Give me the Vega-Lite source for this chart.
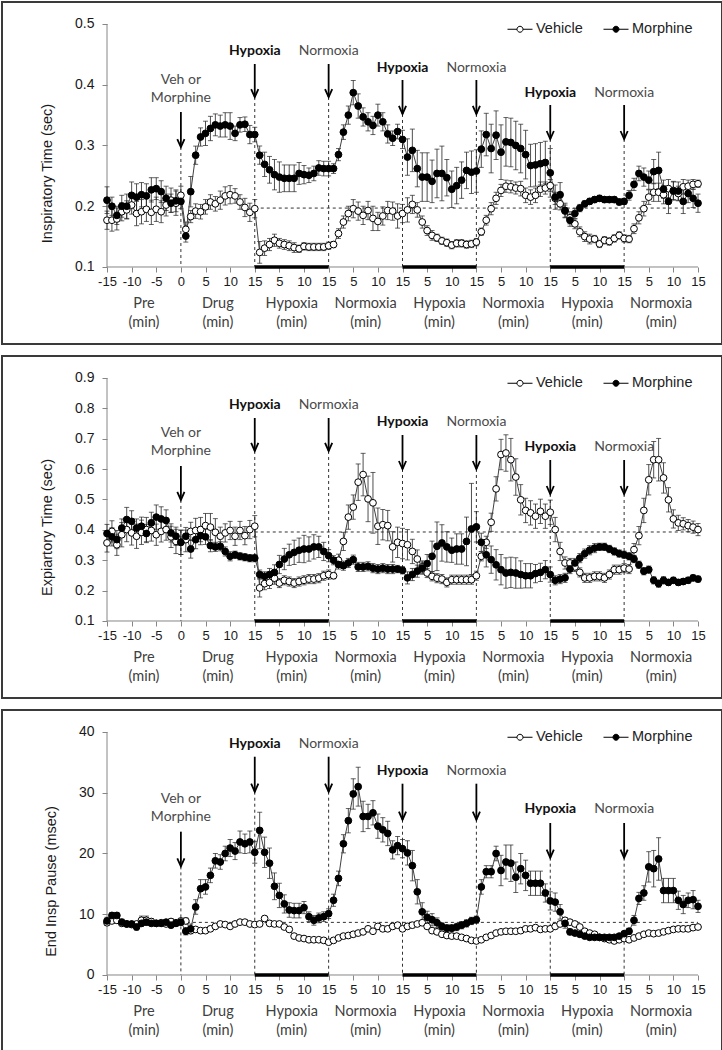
{
"$schema":"https://vega.github.io/schema/vega-lite/v6.json",
"padding":1,
"spacing":10,
"background":"white",
"config":{
"view":{"stroke":"#3a3a3a","strokeWidth":2},
"axis":{"grid":false,"domain":false,"tickColor":"#868686","tickSize":5,"tickWidth":1,"labelFont":"Liberation Sans","labelColor":"#1a1a1a","titleFont":"Liberation Sans","titleFontWeight":"normal","titleColor":"#1a1a1a","titleFontSize":14.5},
"axisX":{"labelFontSize":13,"labelPadding":3,"labelOverlap":false,"labelFlush":false},
"axisY":{"labelFontSize":14,"labelPadding":8,"titlePadding":20}
},
"resolve":{"scale":{"fill":"independent"}},
"datasets":{
"c1":[{"x":-7.5,"y":0.1,"t":"Pre\n(min)"},{"x":7.5,"y":0.1,"t":"Drug\n(min)"},{"x":22.5,"y":0.1,"t":"Hypoxia\n(min)"},{"x":37.5,"y":0.1,"t":"Normoxia\n(min)"},{"x":52.5,"y":0.1,"t":"Hypoxia\n(min)"},{"x":67.5,"y":0.1,"t":"Normoxia\n(min)"},{"x":82.5,"y":0.1,"t":"Hypoxia\n(min)"},{"x":97.5,"y":0.1,"t":"Normoxia\n(min)"}],
"c3":[{"x":-7.5,"y":0,"t":"Pre\n(min)"},{"x":7.5,"y":0,"t":"Drug\n(min)"},{"x":22.5,"y":0,"t":"Hypoxia\n(min)"},{"x":37.5,"y":0,"t":"Normoxia\n(min)"},{"x":52.5,"y":0,"t":"Hypoxia\n(min)"},{"x":67.5,"y":0,"t":"Normoxia\n(min)"},{"x":82.5,"y":0,"t":"Hypoxia\n(min)"},{"x":97.5,"y":0,"t":"Normoxia\n(min)"}],
"h1":[{"x":15,"x2":30,"y":0.1},{"x":45,"x2":60,"y":0.1},{"x":75,"x2":90,"y":0.1}],
"h3":[{"x":15,"x2":30,"y":0},{"x":45,"x2":60,"y":0},{"x":75,"x2":90,"y":0}],
"ax1":[{"x":-15,"x2":105,"y":0.1,"y2":0.1},{"x":-15,"x2":-15,"y":0.1,"y2":0.5}],
"ax2":[{"x":-15,"x2":105,"y":0.1,"y2":0.1},{"x":-15,"x2":-15,"y":0.1,"y2":0.9}],
"ax3":[{"x":-15,"x2":105,"y":0,"y2":0},{"x":-15,"x2":-15,"y":0,"y2":40}],
"b1":[{"x":15,"x2":105,"y":0.197}],
"b2":[{"x":15,"x2":105,"y":0.393}],
"b3":[{"x":0,"x2":105,"y":8.66}],
"a1":[{"x":0,"t":"Veh or\nMorphine","b":0,"ly":0.4078,"ya":0.3551,"yb":0.2975,"y0":0.1},{"x":15,"t":"Hypoxia","b":1,"ly":0.4556,"ya":0.4342,"yb":0.3798,"y0":0.1},{"x":30,"t":"Normoxia","b":0,"ly":0.4556,"ya":0.4342,"yb":0.3798,"y0":0.1},{"x":45,"t":"Hypoxia","b":1,"ly":0.4276,"ya":0.4078,"yb":0.3519,"y0":0.1},{"x":60,"t":"Normoxia","b":0,"ly":0.4276,"ya":0.4078,"yb":0.3519,"y0":0.1},{"x":75,"t":"Hypoxia","b":1,"ly":0.3864,"ya":0.3667,"yb":0.3107,"y0":0.1},{"x":90,"t":"Normoxia","b":0,"ly":0.3864,"ya":0.3667,"yb":0.3107,"y0":0.1}],
"a2":[{"x":0,"t":"Veh or\nMorphine","b":0,"ly":0.7189,"ya":0.6103,"yb":0.4984,"y0":0.1},{"x":15,"t":"Hypoxia","b":1,"ly":0.8121,"ya":0.7683,"yb":0.6597,"y0":0.1},{"x":30,"t":"Normoxia","b":0,"ly":0.8121,"ya":0.7683,"yb":0.6597,"y0":0.1},{"x":45,"t":"Hypoxia","b":1,"ly":0.7551,"ya":0.7124,"yb":0.6004,"y0":0.1},{"x":60,"t":"Normoxia","b":0,"ly":0.7551,"ya":0.7124,"yb":0.6004,"y0":0.1},{"x":75,"t":"Hypoxia","b":1,"ly":0.6728,"ya":0.63,"yb":0.5181,"y0":0.1},{"x":90,"t":"Normoxia","b":0,"ly":0.6728,"ya":0.63,"yb":0.5181,"y0":0.1}],
"a3":[{"x":0,"t":"Veh or\nMorphine","b":0,"ly":29.02,"ya":23.59,"yb":17.88,"y0":0},{"x":15,"t":"Hypoxia","b":1,"ly":38.07,"ya":35.93,"yb":30.17,"y0":0},{"x":30,"t":"Normoxia","b":0,"ly":38.07,"ya":35.93,"yb":30.17,"y0":0},{"x":45,"t":"Hypoxia","b":1,"ly":33.58,"ya":31.49,"yb":25.56,"y0":0},{"x":60,"t":"Normoxia","b":0,"ly":33.58,"ya":31.49,"yb":25.56,"y0":0},{"x":75,"t":"Hypoxia","b":1,"ly":27.37,"ya":25.02,"yb":19.31,"y0":0},{"x":90,"t":"Normoxia","b":0,"ly":27.37,"ya":25.02,"yb":19.31,"y0":0}],
"it":[
{"s":"V","x":-15,"y":0.177,"e":0.015},{"s":"V","x":-14,"y":0.177,"e":0.018},{"s":"V","x":-13,"y":0.179,"e":0.018},{"s":"V","x":-12,"y":0.191,"e":0.015},{"s":"V","x":-11,"y":0.194,"e":0.015},{"s":"V","x":-10,"y":0.202,"e":0.015},{"s":"V","x":-9,"y":0.188,"e":0.02},{"s":"V","x":-8,"y":0.191,"e":0.02},{"s":"V","x":-7,"y":0.195,"e":0.02},{"s":"V","x":-6,"y":0.19,"e":0.02},{"s":"V","x":-5,"y":0.195,"e":0.02},{"s":"V","x":-4,"y":0.191,"e":0.018},{"s":"V","x":-3,"y":0.202,"e":0.018},{"s":"V","x":-2,"y":0.21,"e":0.02},{"s":"V","x":-1,"y":0.205,"e":0.02},{"s":"V","x":0,"y":0.218,"e":0.015},
{"s":"V","x":1,"y":0.162,"e":0.012},{"s":"V","x":2,"y":0.183,"e":0.01},{"s":"V","x":3,"y":0.192,"e":0.012},{"s":"V","x":4,"y":0.191,"e":0.012},{"s":"V","x":5,"y":0.199,"e":0.012},{"s":"V","x":6,"y":0.207,"e":0.012},{"s":"V","x":7,"y":0.204,"e":0.012},{"s":"V","x":8,"y":0.21,"e":0.015},{"s":"V","x":9,"y":0.217,"e":0.015},{"s":"V","x":10,"y":0.219,"e":0.015},{"s":"V","x":11,"y":0.217,"e":0.012},{"s":"V","x":12,"y":0.207,"e":0.012},{"s":"V","x":13,"y":0.198,"e":0.015},{"s":"V","x":14,"y":0.19,"e":0.015},{"s":"V","x":15,"y":0.196,"e":0.015},
{"s":"V","x":16,"y":0.124,"e":0.018},{"s":"V","x":17,"y":0.131,"e":0.012},{"s":"V","x":18,"y":0.137,"e":0.01},{"s":"V","x":19,"y":0.144,"e":0.01},{"s":"V","x":20,"y":0.139,"e":0.008},{"s":"V","x":21,"y":0.137,"e":0.008},{"s":"V","x":22,"y":0.135,"e":0.008},{"s":"V","x":23,"y":0.132,"e":0.008},{"s":"V","x":24,"y":0.13,"e":0.006},{"s":"V","x":25,"y":0.134,"e":0.006},{"s":"V","x":26,"y":0.133,"e":0.006},{"s":"V","x":27,"y":0.133,"e":0.006},{"s":"V","x":28,"y":0.133,"e":0.006},{"s":"V","x":29,"y":0.133,"e":0.006},{"s":"V","x":30,"y":0.135,"e":0.006},
{"s":"V","x":31,"y":0.137,"e":0.005},{"s":"V","x":32,"y":0.155,"e":0.008},{"s":"V","x":33,"y":0.174,"e":0.01},{"s":"V","x":34,"y":0.188,"e":0.012},{"s":"V","x":35,"y":0.196,"e":0.015},{"s":"V","x":36,"y":0.192,"e":0.015},{"s":"V","x":37,"y":0.185,"e":0.015},{"s":"V","x":38,"y":0.193,"e":0.015},{"s":"V","x":39,"y":0.18,"e":0.02},{"s":"V","x":40,"y":0.175,"e":0.015},{"s":"V","x":41,"y":0.184,"e":0.015},{"s":"V","x":42,"y":0.193,"e":0.015},{"s":"V","x":43,"y":0.192,"e":0.015},{"s":"V","x":44,"y":0.184,"e":0.02},{"s":"V","x":45,"y":0.188,"e":0.015},
{"s":"V","x":46,"y":0.194,"e":0.02},{"s":"V","x":47,"y":0.203,"e":0.015},{"s":"V","x":48,"y":0.194,"e":0.012},{"s":"V","x":49,"y":0.174,"e":0.01},{"s":"V","x":50,"y":0.16,"e":0.008},{"s":"V","x":51,"y":0.152,"e":0.008},{"s":"V","x":52,"y":0.148,"e":0.006},{"s":"V","x":53,"y":0.143,"e":0.006},{"s":"V","x":54,"y":0.14,"e":0.006},{"s":"V","x":55,"y":0.136,"e":0.006},{"s":"V","x":56,"y":0.139,"e":0.006},{"s":"V","x":57,"y":0.139,"e":0.006},{"s":"V","x":58,"y":0.137,"e":0.006},{"s":"V","x":59,"y":0.138,"e":0.006},{"s":"V","x":60,"y":0.141,"e":0.006},
{"s":"V","x":61,"y":0.158,"e":0.006},{"s":"V","x":62,"y":0.177,"e":0.008},{"s":"V","x":63,"y":0.196,"e":0.01},{"s":"V","x":64,"y":0.213,"e":0.01},{"s":"V","x":65,"y":0.226,"e":0.01},{"s":"V","x":66,"y":0.233,"e":0.01},{"s":"V","x":67,"y":0.232,"e":0.01},{"s":"V","x":68,"y":0.23,"e":0.01},{"s":"V","x":69,"y":0.229,"e":0.012},{"s":"V","x":70,"y":0.218,"e":0.012},{"s":"V","x":71,"y":0.215,"e":0.012},{"s":"V","x":72,"y":0.218,"e":0.012},{"s":"V","x":73,"y":0.228,"e":0.012},{"s":"V","x":74,"y":0.23,"e":0.01},{"s":"V","x":75,"y":0.234,"e":0.01},
{"s":"V","x":76,"y":0.213,"e":0.01},{"s":"V","x":77,"y":0.204,"e":0.01},{"s":"V","x":78,"y":0.192,"e":0.01},{"s":"V","x":79,"y":0.181,"e":0.01},{"s":"V","x":80,"y":0.171,"e":0.008},{"s":"V","x":81,"y":0.158,"e":0.008},{"s":"V","x":82,"y":0.15,"e":0.008},{"s":"V","x":83,"y":0.146,"e":0.008},{"s":"V","x":84,"y":0.146,"e":0.006},{"s":"V","x":85,"y":0.138,"e":0.006},{"s":"V","x":86,"y":0.144,"e":0.006},{"s":"V","x":87,"y":0.142,"e":0.006},{"s":"V","x":88,"y":0.147,"e":0.006},{"s":"V","x":89,"y":0.152,"e":0.006},{"s":"V","x":90,"y":0.147,"e":0.006},
{"s":"V","x":91,"y":0.146,"e":0.006},{"s":"V","x":92,"y":0.163,"e":0.008},{"s":"V","x":93,"y":0.181,"e":0.01},{"s":"V","x":94,"y":0.196,"e":0.012},{"s":"V","x":95,"y":0.215,"e":0.012},{"s":"V","x":96,"y":0.223,"e":0.015},{"s":"V","x":97,"y":0.223,"e":0.015},{"s":"V","x":98,"y":0.219,"e":0.015},{"s":"V","x":99,"y":0.229,"e":0.015},{"s":"V","x":100,"y":0.226,"e":0.015},{"s":"V","x":101,"y":0.221,"e":0.012},{"s":"V","x":102,"y":0.232,"e":0.012},{"s":"V","x":103,"y":0.233,"e":0.01},{"s":"V","x":104,"y":0.236,"e":0.008},{"s":"V","x":105,"y":0.237,"e":0.006},
{"s":"M","x":-15,"y":0.21,"e":0.022},{"s":"M","x":-14,"y":0.2,"e":0.015},{"s":"M","x":-13,"y":0.185,"e":0.015},{"s":"M","x":-12,"y":0.2,"e":0.018},{"s":"M","x":-11,"y":0.2,"e":0.02},{"s":"M","x":-10,"y":0.218,"e":0.022},{"s":"M","x":-9,"y":0.215,"e":0.022},{"s":"M","x":-8,"y":0.219,"e":0.02},{"s":"M","x":-7,"y":0.217,"e":0.02},{"s":"M","x":-6,"y":0.227,"e":0.02},{"s":"M","x":-5,"y":0.229,"e":0.018},{"s":"M","x":-4,"y":0.224,"e":0.018},{"s":"M","x":-3,"y":0.213,"e":0.02},{"s":"M","x":-2,"y":0.205,"e":0.015},{"s":"M","x":-1,"y":0.209,"e":0.018},{"s":"M","x":0,"y":0.208,"e":0.012},
{"s":"M","x":1,"y":0.151,"e":0.01},{"s":"M","x":2,"y":0.224,"e":0.025},{"s":"M","x":3,"y":0.284,"e":0.015},{"s":"M","x":4,"y":0.314,"e":0.015},{"s":"M","x":5,"y":0.32,"e":0.02},{"s":"M","x":6,"y":0.328,"e":0.02},{"s":"M","x":7,"y":0.334,"e":0.018},{"s":"M","x":8,"y":0.332,"e":0.018},{"s":"M","x":9,"y":0.334,"e":0.02},{"s":"M","x":10,"y":0.332,"e":0.022},{"s":"M","x":11,"y":0.32,"e":0.012},{"s":"M","x":12,"y":0.334,"e":0.012},{"s":"M","x":13,"y":0.335,"e":0.012},{"s":"M","x":14,"y":0.318,"e":0.015},{"s":"M","x":15,"y":0.318,"e":0.012},
{"s":"M","x":16,"y":0.284,"e":0.015},{"s":"M","x":17,"y":0.269,"e":0.02},{"s":"M","x":18,"y":0.26,"e":0.022},{"s":"M","x":19,"y":0.252,"e":0.025},{"s":"M","x":20,"y":0.248,"e":0.025},{"s":"M","x":21,"y":0.246,"e":0.022},{"s":"M","x":22,"y":0.246,"e":0.022},{"s":"M","x":23,"y":0.246,"e":0.022},{"s":"M","x":24,"y":0.254,"e":0.018},{"s":"M","x":25,"y":0.252,"e":0.015},{"s":"M","x":26,"y":0.251,"e":0.012},{"s":"M","x":27,"y":0.254,"e":0.012},{"s":"M","x":28,"y":0.263,"e":0.012},{"s":"M","x":29,"y":0.262,"e":0.012},{"s":"M","x":30,"y":0.262,"e":0.012},
{"s":"M","x":31,"y":0.262,"e":0.008},{"s":"M","x":32,"y":0.285,"e":0.01},{"s":"M","x":33,"y":0.322,"e":0.012},{"s":"M","x":34,"y":0.35,"e":0.015},{"s":"M","x":35,"y":0.387,"e":0.02},{"s":"M","x":36,"y":0.365,"e":0.02},{"s":"M","x":37,"y":0.347,"e":0.015},{"s":"M","x":38,"y":0.339,"e":0.015},{"s":"M","x":39,"y":0.333,"e":0.015},{"s":"M","x":40,"y":0.35,"e":0.018},{"s":"M","x":41,"y":0.339,"e":0.015},{"s":"M","x":42,"y":0.319,"e":0.015},{"s":"M","x":43,"y":0.312,"e":0.012},{"s":"M","x":44,"y":0.323,"e":0.012},{"s":"M","x":45,"y":0.31,"e":0.015},
{"s":"M","x":46,"y":0.281,"e":0.03},{"s":"M","x":47,"y":0.292,"e":0.035},{"s":"M","x":48,"y":0.262,"e":0.03},{"s":"M","x":49,"y":0.248,"e":0.04},{"s":"M","x":50,"y":0.248,"e":0.04},{"s":"M","x":51,"y":0.241,"e":0.035},{"s":"M","x":52,"y":0.254,"e":0.04},{"s":"M","x":53,"y":0.254,"e":0.045},{"s":"M","x":54,"y":0.247,"e":0.03},{"s":"M","x":55,"y":0.228,"e":0.03},{"s":"M","x":56,"y":0.234,"e":0.03},{"s":"M","x":57,"y":0.243,"e":0.03},{"s":"M","x":58,"y":0.259,"e":0.03},{"s":"M","x":59,"y":0.256,"e":0.035},{"s":"M","x":60,"y":0.258,"e":0.035},
{"s":"M","x":61,"y":0.294,"e":0.03},{"s":"M","x":62,"y":0.318,"e":0.035},{"s":"M","x":63,"y":0.295,"e":0.04},{"s":"M","x":64,"y":0.317,"e":0.04},{"s":"M","x":65,"y":0.289,"e":0.045},{"s":"M","x":66,"y":0.306,"e":0.04},{"s":"M","x":67,"y":0.305,"e":0.04},{"s":"M","x":68,"y":0.3,"e":0.04},{"s":"M","x":69,"y":0.295,"e":0.04},{"s":"M","x":70,"y":0.285,"e":0.04},{"s":"M","x":71,"y":0.267,"e":0.035},{"s":"M","x":72,"y":0.268,"e":0.035},{"s":"M","x":73,"y":0.27,"e":0.035},{"s":"M","x":74,"y":0.272,"e":0.035},{"s":"M","x":75,"y":0.255,"e":0.04},
{"s":"M","x":76,"y":0.215,"e":0.02},{"s":"M","x":77,"y":0.219,"e":0.02},{"s":"M","x":78,"y":0.193,"e":0.012},{"s":"M","x":79,"y":0.177,"e":0.01},{"s":"M","x":80,"y":0.188,"e":0.008},{"s":"M","x":81,"y":0.197,"e":0.006},{"s":"M","x":82,"y":0.204,"e":0.005},{"s":"M","x":83,"y":0.208,"e":0.005},{"s":"M","x":84,"y":0.211,"e":0.005},{"s":"M","x":85,"y":0.213,"e":0.005},{"s":"M","x":86,"y":0.211,"e":0.005},{"s":"M","x":87,"y":0.211,"e":0.005},{"s":"M","x":88,"y":0.211,"e":0.005},{"s":"M","x":89,"y":0.207,"e":0.005},{"s":"M","x":90,"y":0.208,"e":0.005},
{"s":"M","x":91,"y":0.218,"e":0.008},{"s":"M","x":92,"y":0.236,"e":0.01},{"s":"M","x":93,"y":0.254,"e":0.012},{"s":"M","x":94,"y":0.248,"e":0.015},{"s":"M","x":95,"y":0.243,"e":0.015},{"s":"M","x":96,"y":0.257,"e":0.02},{"s":"M","x":97,"y":0.259,"e":0.03},{"s":"M","x":98,"y":0.228,"e":0.015},{"s":"M","x":99,"y":0.208,"e":0.02},{"s":"M","x":100,"y":0.225,"e":0.015},{"s":"M","x":101,"y":0.225,"e":0.015},{"s":"M","x":102,"y":0.208,"e":0.02},{"s":"M","x":103,"y":0.221,"e":0.015},{"s":"M","x":104,"y":0.213,"e":0.015},{"s":"M","x":105,"y":0.205,"e":0.015}
],
"et":[
{"s":"V","x":-15,"y":0.357,"e":0.03},{"s":"V","x":-14,"y":0.395,"e":0.035},{"s":"V","x":-13,"y":0.351,"e":0.035},{"s":"V","x":-12,"y":0.384,"e":0.04},{"s":"V","x":-11,"y":0.401,"e":0.04},{"s":"V","x":-10,"y":0.39,"e":0.04},{"s":"V","x":-9,"y":0.379,"e":0.04},{"s":"V","x":-8,"y":0.392,"e":0.04},{"s":"V","x":-7,"y":0.401,"e":0.04},{"s":"V","x":-6,"y":0.398,"e":0.035},{"s":"V","x":-5,"y":0.384,"e":0.035},{"s":"V","x":-4,"y":0.395,"e":0.035},{"s":"V","x":-3,"y":0.401,"e":0.035},{"s":"V","x":-2,"y":0.377,"e":0.035},{"s":"V","x":-1,"y":0.362,"e":0.04},{"s":"V","x":0,"y":0.359,"e":0.04},
{"s":"V","x":1,"y":0.368,"e":0.04},{"s":"V","x":2,"y":0.395,"e":0.03},{"s":"V","x":3,"y":0.398,"e":0.04},{"s":"V","x":4,"y":0.401,"e":0.04},{"s":"V","x":5,"y":0.414,"e":0.04},{"s":"V","x":6,"y":0.409,"e":0.045},{"s":"V","x":7,"y":0.392,"e":0.045},{"s":"V","x":8,"y":0.379,"e":0.03},{"s":"V","x":9,"y":0.39,"e":0.03},{"s":"V","x":10,"y":0.398,"e":0.03},{"s":"V","x":11,"y":0.379,"e":0.03},{"s":"V","x":12,"y":0.398,"e":0.03},{"s":"V","x":13,"y":0.381,"e":0.03},{"s":"V","x":14,"y":0.401,"e":0.03},{"s":"V","x":15,"y":0.412,"e":0.035},
{"s":"V","x":16,"y":0.209,"e":0.03},{"s":"V","x":17,"y":0.223,"e":0.02},{"s":"V","x":18,"y":0.227,"e":0.02},{"s":"V","x":19,"y":0.241,"e":0.02},{"s":"V","x":20,"y":0.225,"e":0.015},{"s":"V","x":21,"y":0.234,"e":0.015},{"s":"V","x":22,"y":0.23,"e":0.015},{"s":"V","x":23,"y":0.225,"e":0.015},{"s":"V","x":24,"y":0.23,"e":0.015},{"s":"V","x":25,"y":0.234,"e":0.015},{"s":"V","x":26,"y":0.238,"e":0.015},{"s":"V","x":27,"y":0.238,"e":0.015},{"s":"V","x":28,"y":0.241,"e":0.015},{"s":"V","x":29,"y":0.249,"e":0.015},{"s":"V","x":30,"y":0.253,"e":0.015},
{"s":"V","x":31,"y":0.249,"e":0.01},{"s":"V","x":32,"y":0.3,"e":0.02},{"s":"V","x":33,"y":0.362,"e":0.03},{"s":"V","x":34,"y":0.442,"e":0.04},{"s":"V","x":35,"y":0.475,"e":0.04},{"s":"V","x":36,"y":0.557,"e":0.06},{"s":"V","x":37,"y":0.582,"e":0.07},{"s":"V","x":38,"y":0.502,"e":0.075},{"s":"V","x":39,"y":0.489,"e":0.1},{"s":"V","x":40,"y":0.412,"e":0.06},{"s":"V","x":41,"y":0.417,"e":0.05},{"s":"V","x":42,"y":0.414,"e":0.05},{"s":"V","x":43,"y":0.344,"e":0.05},{"s":"V","x":44,"y":0.359,"e":0.05},{"s":"V","x":45,"y":0.355,"e":0.05},
{"s":"V","x":46,"y":0.351,"e":0.05},{"s":"V","x":47,"y":0.329,"e":0.04},{"s":"V","x":48,"y":0.304,"e":0.03},{"s":"V","x":49,"y":0.278,"e":0.02},{"s":"V","x":50,"y":0.258,"e":0.015},{"s":"V","x":51,"y":0.247,"e":0.015},{"s":"V","x":52,"y":0.241,"e":0.015},{"s":"V","x":53,"y":0.238,"e":0.015},{"s":"V","x":54,"y":0.227,"e":0.015},{"s":"V","x":55,"y":0.236,"e":0.015},{"s":"V","x":56,"y":0.236,"e":0.015},{"s":"V","x":57,"y":0.236,"e":0.015},{"s":"V","x":58,"y":0.236,"e":0.015},{"s":"V","x":59,"y":0.236,"e":0.015},{"s":"V","x":60,"y":0.249,"e":0.015},
{"s":"V","x":61,"y":0.313,"e":0.015},{"s":"V","x":62,"y":0.359,"e":0.02},{"s":"V","x":63,"y":0.425,"e":0.03},{"s":"V","x":64,"y":0.535,"e":0.04},{"s":"V","x":65,"y":0.648,"e":0.05},{"s":"V","x":66,"y":0.653,"e":0.06},{"s":"V","x":67,"y":0.631,"e":0.07},{"s":"V","x":68,"y":0.574,"e":0.06},{"s":"V","x":69,"y":0.499,"e":0.05},{"s":"V","x":70,"y":0.464,"e":0.04},{"s":"V","x":71,"y":0.456,"e":0.04},{"s":"V","x":72,"y":0.445,"e":0.04},{"s":"V","x":73,"y":0.461,"e":0.04},{"s":"V","x":74,"y":0.445,"e":0.04},{"s":"V","x":75,"y":0.458,"e":0.04},
{"s":"V","x":76,"y":0.401,"e":0.04},{"s":"V","x":77,"y":0.329,"e":0.03},{"s":"V","x":78,"y":0.291,"e":0.02},{"s":"V","x":79,"y":0.291,"e":0.015},{"s":"V","x":80,"y":0.278,"e":0.015},{"s":"V","x":81,"y":0.26,"e":0.015},{"s":"V","x":82,"y":0.242,"e":0.015},{"s":"V","x":83,"y":0.242,"e":0.015},{"s":"V","x":84,"y":0.247,"e":0.015},{"s":"V","x":85,"y":0.247,"e":0.015},{"s":"V","x":86,"y":0.242,"e":0.015},{"s":"V","x":87,"y":0.253,"e":0.015},{"s":"V","x":88,"y":0.269,"e":0.015},{"s":"V","x":89,"y":0.269,"e":0.015},{"s":"V","x":90,"y":0.274,"e":0.015},
{"s":"V","x":91,"y":0.271,"e":0.015},{"s":"V","x":92,"y":0.335,"e":0.02},{"s":"V","x":93,"y":0.381,"e":0.03},{"s":"V","x":94,"y":0.464,"e":0.04},{"s":"V","x":95,"y":0.565,"e":0.05},{"s":"V","x":96,"y":0.631,"e":0.06},{"s":"V","x":97,"y":0.631,"e":0.07},{"s":"V","x":98,"y":0.571,"e":0.05},{"s":"V","x":99,"y":0.499,"e":0.04},{"s":"V","x":100,"y":0.436,"e":0.03},{"s":"V","x":101,"y":0.423,"e":0.025},{"s":"V","x":102,"y":0.42,"e":0.02},{"s":"V","x":103,"y":0.414,"e":0.02},{"s":"V","x":104,"y":0.409,"e":0.02},{"s":"V","x":105,"y":0.401,"e":0.02},
{"s":"M","x":-15,"y":0.388,"e":0.03},{"s":"M","x":-14,"y":0.377,"e":0.03},{"s":"M","x":-13,"y":0.368,"e":0.03},{"s":"M","x":-12,"y":0.406,"e":0.03},{"s":"M","x":-11,"y":0.434,"e":0.04},{"s":"M","x":-10,"y":0.428,"e":0.035},{"s":"M","x":-9,"y":0.406,"e":0.03},{"s":"M","x":-8,"y":0.412,"e":0.03},{"s":"M","x":-7,"y":0.388,"e":0.03},{"s":"M","x":-6,"y":0.423,"e":0.035},{"s":"M","x":-5,"y":0.442,"e":0.04},{"s":"M","x":-4,"y":0.436,"e":0.04},{"s":"M","x":-3,"y":0.431,"e":0.035},{"s":"M","x":-2,"y":0.39,"e":0.03},{"s":"M","x":-1,"y":0.379,"e":0.03},{"s":"M","x":0,"y":0.359,"e":0.04},
{"s":"M","x":1,"y":0.379,"e":0.02},{"s":"M","x":2,"y":0.337,"e":0.03},{"s":"M","x":3,"y":0.368,"e":0.03},{"s":"M","x":4,"y":0.381,"e":0.03},{"s":"M","x":5,"y":0.377,"e":0.025},{"s":"M","x":6,"y":0.348,"e":0.02},{"s":"M","x":7,"y":0.344,"e":0.015},{"s":"M","x":8,"y":0.346,"e":0.015},{"s":"M","x":9,"y":0.329,"e":0.015},{"s":"M","x":10,"y":0.313,"e":0.015},{"s":"M","x":11,"y":0.318,"e":0.012},{"s":"M","x":12,"y":0.313,"e":0.012},{"s":"M","x":13,"y":0.31,"e":0.012},{"s":"M","x":14,"y":0.307,"e":0.012},{"s":"M","x":15,"y":0.307,"e":0.012},
{"s":"M","x":16,"y":0.253,"e":0.015},{"s":"M","x":17,"y":0.247,"e":0.015},{"s":"M","x":18,"y":0.253,"e":0.02},{"s":"M","x":19,"y":0.26,"e":0.025},{"s":"M","x":20,"y":0.286,"e":0.03},{"s":"M","x":21,"y":0.304,"e":0.035},{"s":"M","x":22,"y":0.318,"e":0.035},{"s":"M","x":23,"y":0.326,"e":0.04},{"s":"M","x":24,"y":0.333,"e":0.04},{"s":"M","x":25,"y":0.337,"e":0.045},{"s":"M","x":26,"y":0.337,"e":0.04},{"s":"M","x":27,"y":0.344,"e":0.04},{"s":"M","x":28,"y":0.344,"e":0.035},{"s":"M","x":29,"y":0.329,"e":0.03},{"s":"M","x":30,"y":0.315,"e":0.02},
{"s":"M","x":31,"y":0.3,"e":0.015},{"s":"M","x":32,"y":0.286,"e":0.015},{"s":"M","x":33,"y":0.282,"e":0.015},{"s":"M","x":34,"y":0.291,"e":0.015},{"s":"M","x":35,"y":0.302,"e":0.015},{"s":"M","x":36,"y":0.278,"e":0.015},{"s":"M","x":37,"y":0.278,"e":0.015},{"s":"M","x":38,"y":0.28,"e":0.015},{"s":"M","x":39,"y":0.274,"e":0.015},{"s":"M","x":40,"y":0.271,"e":0.015},{"s":"M","x":41,"y":0.274,"e":0.015},{"s":"M","x":42,"y":0.271,"e":0.015},{"s":"M","x":43,"y":0.271,"e":0.015},{"s":"M","x":44,"y":0.271,"e":0.012},{"s":"M","x":45,"y":0.267,"e":0.012},
{"s":"M","x":46,"y":0.242,"e":0.02},{"s":"M","x":47,"y":0.253,"e":0.02},{"s":"M","x":48,"y":0.264,"e":0.02},{"s":"M","x":49,"y":0.274,"e":0.02},{"s":"M","x":50,"y":0.289,"e":0.03},{"s":"M","x":51,"y":0.313,"e":0.05},{"s":"M","x":52,"y":0.346,"e":0.08},{"s":"M","x":53,"y":0.357,"e":0.06},{"s":"M","x":54,"y":0.344,"e":0.05},{"s":"M","x":55,"y":0.333,"e":0.04},{"s":"M","x":56,"y":0.337,"e":0.05},{"s":"M","x":57,"y":0.337,"e":0.05},{"s":"M","x":58,"y":0.362,"e":0.08},{"s":"M","x":59,"y":0.403,"e":0.15},{"s":"M","x":60,"y":0.41,"e":0.05},
{"s":"M","x":61,"y":0.359,"e":0.03},{"s":"M","x":62,"y":0.318,"e":0.04},{"s":"M","x":63,"y":0.302,"e":0.045},{"s":"M","x":64,"y":0.285,"e":0.05},{"s":"M","x":65,"y":0.269,"e":0.05},{"s":"M","x":66,"y":0.258,"e":0.05},{"s":"M","x":67,"y":0.26,"e":0.05},{"s":"M","x":68,"y":0.258,"e":0.05},{"s":"M","x":69,"y":0.253,"e":0.045},{"s":"M","x":70,"y":0.249,"e":0.04},{"s":"M","x":71,"y":0.249,"e":0.04},{"s":"M","x":72,"y":0.256,"e":0.03},{"s":"M","x":73,"y":0.26,"e":0.03},{"s":"M","x":74,"y":0.269,"e":0.03},{"s":"M","x":75,"y":0.253,"e":0.025},
{"s":"M","x":76,"y":0.234,"e":0.015},{"s":"M","x":77,"y":0.238,"e":0.015},{"s":"M","x":78,"y":0.242,"e":0.015},{"s":"M","x":79,"y":0.271,"e":0.015},{"s":"M","x":80,"y":0.291,"e":0.015},{"s":"M","x":81,"y":0.307,"e":0.015},{"s":"M","x":82,"y":0.322,"e":0.015},{"s":"M","x":83,"y":0.333,"e":0.015},{"s":"M","x":84,"y":0.34,"e":0.015},{"s":"M","x":85,"y":0.344,"e":0.012},{"s":"M","x":86,"y":0.344,"e":0.012},{"s":"M","x":87,"y":0.337,"e":0.012},{"s":"M","x":88,"y":0.329,"e":0.012},{"s":"M","x":89,"y":0.322,"e":0.012},{"s":"M","x":90,"y":0.318,"e":0.012},
{"s":"M","x":91,"y":0.313,"e":0.012},{"s":"M","x":92,"y":0.304,"e":0.012},{"s":"M","x":93,"y":0.285,"e":0.012},{"s":"M","x":94,"y":0.264,"e":0.012},{"s":"M","x":95,"y":0.269,"e":0.012},{"s":"M","x":96,"y":0.234,"e":0.012},{"s":"M","x":97,"y":0.223,"e":0.012},{"s":"M","x":98,"y":0.234,"e":0.012},{"s":"M","x":99,"y":0.227,"e":0.01},{"s":"M","x":100,"y":0.234,"e":0.01},{"s":"M","x":101,"y":0.227,"e":0.01},{"s":"M","x":102,"y":0.23,"e":0.01},{"s":"M","x":103,"y":0.234,"e":0.01},{"s":"M","x":104,"y":0.242,"e":0.01},{"s":"M","x":105,"y":0.238,"e":0.01}
],
"ei":[
{"s":"V","x":-15,"y":8.6,"e":0.4},{"s":"V","x":-14,"y":8.9,"e":0.4},{"s":"V","x":-13,"y":9.0,"e":0.4},{"s":"V","x":-12,"y":8.5,"e":0.4},{"s":"V","x":-11,"y":8.4,"e":0.4},{"s":"V","x":-10,"y":8.3,"e":0.4},{"s":"V","x":-9,"y":8.4,"e":0.4},{"s":"V","x":-8,"y":9.0,"e":0.7},{"s":"V","x":-7,"y":9.0,"e":0.7},{"s":"V","x":-6,"y":8.8,"e":0.5},{"s":"V","x":-5,"y":8.5,"e":0.4},{"s":"V","x":-4,"y":8.6,"e":0.4},{"s":"V","x":-3,"y":8.4,"e":0.4},{"s":"V","x":-2,"y":8.8,"e":0.5},{"s":"V","x":-1,"y":8.6,"e":0.4},{"s":"V","x":0,"y":8.9,"e":0.4},
{"s":"V","x":1,"y":8.9,"e":0.5},{"s":"V","x":2,"y":7.3,"e":0.3},{"s":"V","x":3,"y":7.5,"e":0.3},{"s":"V","x":4,"y":7.3,"e":0.3},{"s":"V","x":5,"y":7.3,"e":0.3},{"s":"V","x":6,"y":7.6,"e":0.3},{"s":"V","x":7,"y":8.0,"e":0.3},{"s":"V","x":8,"y":8.4,"e":0.3},{"s":"V","x":9,"y":8.3,"e":0.3},{"s":"V","x":10,"y":8.0,"e":0.3},{"s":"V","x":11,"y":8.4,"e":0.3},{"s":"V","x":12,"y":8.7,"e":0.3},{"s":"V","x":13,"y":8.7,"e":0.3},{"s":"V","x":14,"y":8.4,"e":0.3},{"s":"V","x":15,"y":8.3,"e":0.3},
{"s":"V","x":16,"y":8.4,"e":0.3},{"s":"V","x":17,"y":9.3,"e":0.4},{"s":"V","x":18,"y":8.5,"e":0.4},{"s":"V","x":19,"y":8.4,"e":0.4},{"s":"V","x":20,"y":8.4,"e":0.4},{"s":"V","x":21,"y":7.9,"e":0.4},{"s":"V","x":22,"y":7.5,"e":0.4},{"s":"V","x":23,"y":6.4,"e":0.3},{"s":"V","x":24,"y":6.1,"e":0.3},{"s":"V","x":25,"y":6.0,"e":0.3},{"s":"V","x":26,"y":5.8,"e":0.3},{"s":"V","x":27,"y":5.8,"e":0.3},{"s":"V","x":28,"y":5.8,"e":0.3},{"s":"V","x":29,"y":5.7,"e":0.3},{"s":"V","x":30,"y":5.4,"e":0.3},
{"s":"V","x":31,"y":5.7,"e":0.3},{"s":"V","x":32,"y":6.1,"e":0.3},{"s":"V","x":33,"y":6.4,"e":0.3},{"s":"V","x":34,"y":6.5,"e":0.3},{"s":"V","x":35,"y":6.7,"e":0.3},{"s":"V","x":36,"y":6.9,"e":0.3},{"s":"V","x":37,"y":7.1,"e":0.3},{"s":"V","x":38,"y":7.6,"e":0.4},{"s":"V","x":39,"y":7.2,"e":0.3},{"s":"V","x":40,"y":8.0,"e":0.4},{"s":"V","x":41,"y":7.6,"e":0.4},{"s":"V","x":42,"y":7.6,"e":0.4},{"s":"V","x":43,"y":8.0,"e":0.4},{"s":"V","x":44,"y":8.2,"e":0.4},{"s":"V","x":45,"y":7.6,"e":0.4},
{"s":"V","x":46,"y":8.0,"e":0.4},{"s":"V","x":47,"y":8.2,"e":0.4},{"s":"V","x":48,"y":8.4,"e":0.4},{"s":"V","x":49,"y":8.6,"e":0.4},{"s":"V","x":50,"y":8.0,"e":0.4},{"s":"V","x":51,"y":7.3,"e":0.3},{"s":"V","x":52,"y":7.1,"e":0.3},{"s":"V","x":53,"y":6.7,"e":0.3},{"s":"V","x":54,"y":6.5,"e":0.3},{"s":"V","x":55,"y":6.4,"e":0.3},{"s":"V","x":56,"y":6.4,"e":0.3},{"s":"V","x":57,"y":6.2,"e":0.3},{"s":"V","x":58,"y":6.0,"e":0.3},{"s":"V","x":59,"y":5.7,"e":0.3},{"s":"V","x":60,"y":5.6,"e":0.3},
{"s":"V","x":61,"y":5.8,"e":0.3},{"s":"V","x":62,"y":6.2,"e":0.3},{"s":"V","x":63,"y":6.5,"e":0.3},{"s":"V","x":64,"y":6.9,"e":0.3},{"s":"V","x":65,"y":7.1,"e":0.3},{"s":"V","x":66,"y":7.2,"e":0.3},{"s":"V","x":67,"y":7.2,"e":0.3},{"s":"V","x":68,"y":7.2,"e":0.3},{"s":"V","x":69,"y":7.3,"e":0.3},{"s":"V","x":70,"y":7.6,"e":0.3},{"s":"V","x":71,"y":7.6,"e":0.3},{"s":"V","x":72,"y":7.8,"e":0.3},{"s":"V","x":73,"y":7.5,"e":0.3},{"s":"V","x":74,"y":7.6,"e":0.3},{"s":"V","x":75,"y":7.6,"e":0.3},
{"s":"V","x":76,"y":8.0,"e":0.4},{"s":"V","x":77,"y":8.4,"e":0.4},{"s":"V","x":78,"y":9.0,"e":0.4},{"s":"V","x":79,"y":8.7,"e":0.4},{"s":"V","x":80,"y":8.4,"e":0.4},{"s":"V","x":81,"y":7.9,"e":0.3},{"s":"V","x":82,"y":7.2,"e":0.3},{"s":"V","x":83,"y":6.9,"e":0.3},{"s":"V","x":84,"y":6.7,"e":0.3},{"s":"V","x":85,"y":6.2,"e":0.3},{"s":"V","x":86,"y":6.0,"e":0.3},{"s":"V","x":87,"y":5.8,"e":0.3},{"s":"V","x":88,"y":5.6,"e":0.3},{"s":"V","x":89,"y":5.8,"e":0.3},{"s":"V","x":90,"y":6.0,"e":0.3},
{"s":"V","x":91,"y":5.8,"e":0.3},{"s":"V","x":92,"y":6.1,"e":0.3},{"s":"V","x":93,"y":6.4,"e":0.3},{"s":"V","x":94,"y":6.7,"e":0.3},{"s":"V","x":95,"y":6.9,"e":0.3},{"s":"V","x":96,"y":6.8,"e":0.3},{"s":"V","x":97,"y":6.9,"e":0.3},{"s":"V","x":98,"y":7.1,"e":0.3},{"s":"V","x":99,"y":7.3,"e":0.3},{"s":"V","x":100,"y":7.5,"e":0.3},{"s":"V","x":101,"y":7.6,"e":0.3},{"s":"V","x":102,"y":7.6,"e":0.3},{"s":"V","x":103,"y":7.6,"e":0.3},{"s":"V","x":104,"y":7.8,"e":0.3},{"s":"V","x":105,"y":7.9,"e":0.3},
{"s":"M","x":-15,"y":8.9,"e":0.6},{"s":"M","x":-14,"y":9.8,"e":0.5},{"s":"M","x":-13,"y":9.8,"e":0.5},{"s":"M","x":-12,"y":8.7,"e":0.5},{"s":"M","x":-11,"y":8.4,"e":0.4},{"s":"M","x":-10,"y":8.4,"e":0.4},{"s":"M","x":-9,"y":7.9,"e":0.5},{"s":"M","x":-8,"y":8.5,"e":0.5},{"s":"M","x":-7,"y":8.7,"e":0.5},{"s":"M","x":-6,"y":8.5,"e":0.4},{"s":"M","x":-5,"y":8.5,"e":0.4},{"s":"M","x":-4,"y":8.5,"e":0.4},{"s":"M","x":-3,"y":8.7,"e":0.4},{"s":"M","x":-2,"y":8.2,"e":0.4},{"s":"M","x":-1,"y":8.5,"e":0.5},{"s":"M","x":0,"y":8.7,"e":0.5},
{"s":"M","x":1,"y":7.2,"e":0.6},{"s":"M","x":2,"y":7.6,"e":0.8},{"s":"M","x":3,"y":11.2,"e":1.2},{"s":"M","x":4,"y":14.2,"e":1.5},{"s":"M","x":5,"y":14.5,"e":1.2},{"s":"M","x":6,"y":16.4,"e":1.2},{"s":"M","x":7,"y":18.8,"e":1.2},{"s":"M","x":8,"y":18.6,"e":1.2},{"s":"M","x":9,"y":20.0,"e":1.2},{"s":"M","x":10,"y":20.9,"e":1.4},{"s":"M","x":11,"y":20.4,"e":1.4},{"s":"M","x":12,"y":21.9,"e":1.8},{"s":"M","x":13,"y":21.6,"e":1.6},{"s":"M","x":14,"y":21.9,"e":1.8},{"s":"M","x":15,"y":20.2,"e":1.8},
{"s":"M","x":16,"y":23.8,"e":3.0},{"s":"M","x":17,"y":20.2,"e":2.5},{"s":"M","x":18,"y":18.4,"e":2.5},{"s":"M","x":19,"y":14.6,"e":2.2},{"s":"M","x":20,"y":13.1,"e":2.0},{"s":"M","x":21,"y":11.7,"e":1.5},{"s":"M","x":22,"y":10.7,"e":1.2},{"s":"M","x":23,"y":10.6,"e":1.2},{"s":"M","x":24,"y":10.6,"e":1.2},{"s":"M","x":25,"y":11.1,"e":1.0},{"s":"M","x":26,"y":9.6,"e":0.8},{"s":"M","x":27,"y":9.0,"e":0.8},{"s":"M","x":28,"y":9.4,"e":0.8},{"s":"M","x":29,"y":9.6,"e":0.8},{"s":"M","x":30,"y":10.1,"e":0.8},
{"s":"M","x":31,"y":12.3,"e":1.0},{"s":"M","x":32,"y":15.9,"e":1.2},{"s":"M","x":33,"y":21.6,"e":1.5},{"s":"M","x":34,"y":25.4,"e":2.0},{"s":"M","x":35,"y":29.8,"e":2.5},{"s":"M","x":36,"y":31.0,"e":3.2},{"s":"M","x":37,"y":26.1,"e":2.5},{"s":"M","x":38,"y":26.1,"e":2.0},{"s":"M","x":39,"y":26.7,"e":2.0},{"s":"M","x":40,"y":24.5,"e":2.0},{"s":"M","x":41,"y":23.9,"e":2.0},{"s":"M","x":42,"y":23.3,"e":2.0},{"s":"M","x":43,"y":20.6,"e":1.5},{"s":"M","x":44,"y":21.3,"e":1.5},{"s":"M","x":45,"y":20.8,"e":1.5},
{"s":"M","x":46,"y":20.1,"e":2.0},{"s":"M","x":47,"y":18.0,"e":2.5},{"s":"M","x":48,"y":13.7,"e":2.0},{"s":"M","x":49,"y":10.4,"e":1.5},{"s":"M","x":50,"y":9.5,"e":1.0},{"s":"M","x":51,"y":9.1,"e":1.0},{"s":"M","x":52,"y":8.6,"e":0.8},{"s":"M","x":53,"y":8.0,"e":0.6},{"s":"M","x":54,"y":7.7,"e":0.6},{"s":"M","x":55,"y":7.7,"e":0.6},{"s":"M","x":56,"y":7.9,"e":0.6},{"s":"M","x":57,"y":8.2,"e":0.6},{"s":"M","x":58,"y":8.5,"e":0.6},{"s":"M","x":59,"y":8.9,"e":0.6},{"s":"M","x":60,"y":9.1,"e":0.6},
{"s":"M","x":61,"y":14.5,"e":1.2},{"s":"M","x":62,"y":17.0,"e":1.0},{"s":"M","x":63,"y":17.0,"e":1.0},{"s":"M","x":64,"y":20.0,"e":1.2},{"s":"M","x":65,"y":17.2,"e":2.5},{"s":"M","x":66,"y":18.6,"e":2.8},{"s":"M","x":67,"y":18.4,"e":3.0},{"s":"M","x":68,"y":16.1,"e":2.5},{"s":"M","x":69,"y":17.5,"e":2.5},{"s":"M","x":70,"y":16.4,"e":2.5},{"s":"M","x":71,"y":15.1,"e":2.0},{"s":"M","x":72,"y":15.1,"e":2.0},{"s":"M","x":73,"y":15.1,"e":2.0},{"s":"M","x":74,"y":13.5,"e":1.5},{"s":"M","x":75,"y":12.2,"e":1.5},
{"s":"M","x":76,"y":12.0,"e":1.5},{"s":"M","x":77,"y":10.4,"e":1.2},{"s":"M","x":78,"y":8.5,"e":0.8},{"s":"M","x":79,"y":7.1,"e":0.5},{"s":"M","x":80,"y":6.9,"e":0.4},{"s":"M","x":81,"y":6.7,"e":0.4},{"s":"M","x":82,"y":6.4,"e":0.3},{"s":"M","x":83,"y":6.2,"e":0.3},{"s":"M","x":84,"y":6.2,"e":0.3},{"s":"M","x":85,"y":6.2,"e":0.3},{"s":"M","x":86,"y":6.2,"e":0.3},{"s":"M","x":87,"y":6.2,"e":0.3},{"s":"M","x":88,"y":6.2,"e":0.3},{"s":"M","x":89,"y":6.4,"e":0.3},{"s":"M","x":90,"y":6.8,"e":0.3},
{"s":"M","x":91,"y":7.2,"e":0.5},{"s":"M","x":92,"y":9.0,"e":0.8},{"s":"M","x":93,"y":12.6,"e":1.0},{"s":"M","x":94,"y":13.5,"e":1.2},{"s":"M","x":95,"y":17.8,"e":2.5},{"s":"M","x":96,"y":17.5,"e":3.0},{"s":"M","x":97,"y":19.1,"e":3.5},{"s":"M","x":98,"y":13.9,"e":2.0},{"s":"M","x":99,"y":13.9,"e":2.0},{"s":"M","x":100,"y":13.9,"e":2.0},{"s":"M","x":101,"y":12.3,"e":1.5},{"s":"M","x":102,"y":11.6,"e":1.5},{"s":"M","x":103,"y":12.3,"e":1.2},{"s":"M","x":104,"y":12.4,"e":1.5},{"s":"M","x":105,"y":11.3,"e":1.0}
]
},
"vconcat":[
{
"width":720,"height":342,
"data":{"name":"it"},
"encoding":{
"x":{"field":"x","type":"quantitative","scale":{"domain":[-36.32,109.87],"nice":false,"zero":false},"axis":{"values":[-15,-10,-5,0,5,10,15,20,25,30,35,40,45,50,55,60,65,70,75,80,85,90,95,100,105],"labelExpr":"datum.value <= 0 ? ''+datum.value : (datum.value % 15 == 0 ? '15' : ''+(datum.value % 15))","offset":-77,"title":null}},
"y":{"field":"y","type":"quantitative","scale":{"domain":[-0.02675,0.53621],"nice":false,"zero":false},"axis":{"values":[0.1,0.2,0.3,0.4,0.5],"format":".1f","offset":-105,"title":"Inspiratory Time (sec)"}}
},
"layer":[
{"data":{"name":"b1"},"mark":{"type":"rule","strokeDash":[3,3],"color":"#333","strokeWidth":1},"encoding":{"x2":{"field":"x2"}}},
{"data":{"name":"a1"},"mark":{"type":"rule","strokeDash":[3,3],"color":"#333","strokeWidth":1},"encoding":{"y":{"field":"yb","type":"quantitative"},"y2":{"field":"y0"}}},
{"data":{"name":"ax1"},"mark":{"type":"rule","color":"#868686","strokeWidth":1},"encoding":{"x2":{"field":"x2"},"y2":{"field":"y2"}}},
{"data":{"name":"h1"},"mark":{"type":"rule","color":"black","strokeWidth":3.5},"encoding":{"x2":{"field":"x2"}}},
{"data":{"name":"a1"},"mark":{"type":"rule","color":"black","strokeWidth":1.8},"encoding":{"y":{"field":"ya","type":"quantitative"},"y2":{"field":"yb"}}},
{"data":{"name":"a1"},"mark":{"type":"point","shape":"M-0.9,-2L0,0L0.9,-2","size":64,"filled":false,"stroke":"black","strokeWidth":1.8,"opacity":1},"encoding":{"y":{"field":"yb","type":"quantitative"}}},
{"data":{"name":"a1"},"transform":[{"filter":"datum.b==0"}],"mark":{"type":"text","font":"Lato","fontSize":14,"color":"#4a4a4a","lineBreak":"\n","lineHeight":18,"baseline":"middle"},"encoding":{"y":{"field":"ly","type":"quantitative"},"text":{"field":"t"}}},
{"data":{"name":"a1"},"transform":[{"filter":"datum.b==1"}],"mark":{"type":"text","font":"Lato","fontSize":14,"fontWeight":"bold","color":"#111","baseline":"middle"},"encoding":{"y":{"field":"ly","type":"quantitative"},"text":{"field":"t"}}},
{"data":{"name":"c1"},"mark":{"type":"text","font":"Lato","fontSize":14.5,"color":"#404040","lineBreak":"\n","lineHeight":19,"baseline":"middle","dy":37},"encoding":{"text":{"field":"t"}}},
{"mark":{"type":"errorbar","ticks":{"size":5},"rule":{"strokeWidth":0.8},"color":"#222"},"encoding":{"yError":{"field":"e"}}},
{"mark":{"type":"line","color":"#404040","strokeWidth":1},"encoding":{"detail":{"field":"s"}}},
{"mark":{"type":"point","shape":"circle","filled":true,"size":46,"stroke":"black","strokeWidth":1,"opacity":1},"encoding":{"fill":{"field":"s","type":"nominal","scale":{"domain":["V","M"],"range":["white","black"]},"legend":{"orient":"none","legendX":505,"legendY":14,"direction":"horizontal","title":null,"symbolType":"M-1,0H-0.24M0.24,0H1M-0.24,0A0.24,0.24 0 1 0 0.24,0A0.24,0.24 0 1 0 -0.24,0Z","symbolSize":625,"symbolStrokeColor":"#000","symbolStrokeWidth":1,"labelFont":"Liberation Sans","labelFontSize":14.5,"labelColor":"#222","labelOffset":3,"columnPadding":18,"labelExpr":"datum.label=='V'?'Vehicle':'Morphine'"}}}}
]
},
{
"width":720,"height":342,
"data":{"name":"et"},
"encoding":{
"x":{"field":"x","type":"quantitative","scale":{"domain":[-36.32,109.87],"nice":false,"zero":false},"axis":{"values":[-15,-10,-5,0,5,10,15,20,25,30,35,40,45,50,55,60,65,70,75,80,85,90,95,100,105],"labelExpr":"datum.value <= 0 ? ''+datum.value : (datum.value % 15 == 0 ? '15' : ''+(datum.value % 15))","offset":-77,"title":null}},
"y":{"field":"y","type":"quantitative","scale":{"domain":[-0.1535,0.9724],"nice":false,"zero":false},"axis":{"values":[0.1,0.2,0.3,0.4,0.5,0.6,0.7,0.8,0.9],"format":".1f","offset":-105,"title":"Expiartory Time (sec)"}}
},
"layer":[
{"data":{"name":"b2"},"mark":{"type":"rule","strokeDash":[3,3],"color":"#333","strokeWidth":1},"encoding":{"x2":{"field":"x2"}}},
{"data":{"name":"a2"},"mark":{"type":"rule","strokeDash":[3,3],"color":"#333","strokeWidth":1},"encoding":{"y":{"field":"yb","type":"quantitative"},"y2":{"field":"y0"}}},
{"data":{"name":"ax2"},"mark":{"type":"rule","color":"#868686","strokeWidth":1},"encoding":{"x2":{"field":"x2"},"y2":{"field":"y2"}}},
{"data":{"name":"h1"},"mark":{"type":"rule","color":"black","strokeWidth":3.5},"encoding":{"x2":{"field":"x2"}}},
{"data":{"name":"a2"},"mark":{"type":"rule","color":"black","strokeWidth":1.8},"encoding":{"y":{"field":"ya","type":"quantitative"},"y2":{"field":"yb"}}},
{"data":{"name":"a2"},"mark":{"type":"point","shape":"M-0.9,-2L0,0L0.9,-2","size":64,"filled":false,"stroke":"black","strokeWidth":1.8,"opacity":1},"encoding":{"y":{"field":"yb","type":"quantitative"}}},
{"data":{"name":"a2"},"transform":[{"filter":"datum.b==0"}],"mark":{"type":"text","font":"Lato","fontSize":14,"color":"#4a4a4a","lineBreak":"\n","lineHeight":18,"baseline":"middle"},"encoding":{"y":{"field":"ly","type":"quantitative"},"text":{"field":"t"}}},
{"data":{"name":"a2"},"transform":[{"filter":"datum.b==1"}],"mark":{"type":"text","font":"Lato","fontSize":14,"fontWeight":"bold","color":"#111","baseline":"middle"},"encoding":{"y":{"field":"ly","type":"quantitative"},"text":{"field":"t"}}},
{"data":{"name":"c1"},"mark":{"type":"text","font":"Lato","fontSize":14.5,"color":"#404040","lineBreak":"\n","lineHeight":19,"baseline":"middle","dy":37},"encoding":{"text":{"field":"t"}}},
{"mark":{"type":"errorbar","ticks":{"size":5},"rule":{"strokeWidth":0.8},"color":"#222"},"encoding":{"yError":{"field":"e"}}},
{"mark":{"type":"line","color":"#404040","strokeWidth":1},"encoding":{"detail":{"field":"s"}}},
{"mark":{"type":"point","shape":"circle","filled":true,"size":46,"stroke":"black","strokeWidth":1,"opacity":1},"encoding":{"fill":{"field":"s","type":"nominal","scale":{"domain":["V","M"],"range":["white","black"]},"legend":{"orient":"none","legendX":505,"legendY":14,"direction":"horizontal","title":null,"symbolType":"M-1,0H-0.24M0.24,0H1M-0.24,0A0.24,0.24 0 1 0 0.24,0A0.24,0.24 0 1 0 -0.24,0Z","symbolSize":625,"symbolStrokeColor":"#000","symbolStrokeWidth":1,"labelFont":"Liberation Sans","labelFontSize":14.5,"labelColor":"#222","labelOffset":3,"columnPadding":18,"labelExpr":"datum.label=='V'?'Vehicle':'Morphine'"}}}}
]
},
{
"width":720,"height":342,
"data":{"name":"ei"},
"encoding":{
"x":{"field":"x","type":"quantitative","scale":{"domain":[-36.32,109.87],"nice":false,"zero":false},"axis":{"values":[-15,-10,-5,0,5,10,15,20,25,30,35,40,45,50,55,60,65,70,75,80,85,90,95,100,105],"labelExpr":"datum.value <= 0 ? ''+datum.value : (datum.value % 15 == 0 ? '15' : ''+(datum.value % 15))","offset":-77,"title":null}},
"y":{"field":"y","type":"quantitative","scale":{"domain":[-12.675,43.621],"nice":false,"zero":false},"axis":{"values":[0,10,20,30,40],"format":"d","offset":-105,"title":"End Insp Pause (msec)"}}
},
"layer":[
{"data":{"name":"b3"},"mark":{"type":"rule","strokeDash":[3,3],"color":"#333","strokeWidth":1},"encoding":{"x2":{"field":"x2"}}},
{"data":{"name":"a3"},"mark":{"type":"rule","strokeDash":[3,3],"color":"#333","strokeWidth":1},"encoding":{"y":{"field":"yb","type":"quantitative"},"y2":{"field":"y0"}}},
{"data":{"name":"ax3"},"mark":{"type":"rule","color":"#868686","strokeWidth":1},"encoding":{"x2":{"field":"x2"},"y2":{"field":"y2"}}},
{"data":{"name":"h3"},"mark":{"type":"rule","color":"black","strokeWidth":3.5},"encoding":{"x2":{"field":"x2"}}},
{"data":{"name":"a3"},"mark":{"type":"rule","color":"black","strokeWidth":1.8},"encoding":{"y":{"field":"ya","type":"quantitative"},"y2":{"field":"yb"}}},
{"data":{"name":"a3"},"mark":{"type":"point","shape":"M-0.9,-2L0,0L0.9,-2","size":64,"filled":false,"stroke":"black","strokeWidth":1.8,"opacity":1},"encoding":{"y":{"field":"yb","type":"quantitative"}}},
{"data":{"name":"a3"},"transform":[{"filter":"datum.b==0"}],"mark":{"type":"text","font":"Lato","fontSize":14,"color":"#4a4a4a","lineBreak":"\n","lineHeight":18,"baseline":"middle"},"encoding":{"y":{"field":"ly","type":"quantitative"},"text":{"field":"t"}}},
{"data":{"name":"a3"},"transform":[{"filter":"datum.b==1"}],"mark":{"type":"text","font":"Lato","fontSize":14,"fontWeight":"bold","color":"#111","baseline":"middle"},"encoding":{"y":{"field":"ly","type":"quantitative"},"text":{"field":"t"}}},
{"data":{"name":"c3"},"mark":{"type":"text","font":"Lato","fontSize":14.5,"color":"#404040","lineBreak":"\n","lineHeight":19,"baseline":"middle","dy":37},"encoding":{"text":{"field":"t"}}},
{"mark":{"type":"errorbar","ticks":{"size":5},"rule":{"strokeWidth":0.8},"color":"#222"},"encoding":{"yError":{"field":"e"}}},
{"mark":{"type":"line","color":"#404040","strokeWidth":1},"encoding":{"detail":{"field":"s"}}},
{"mark":{"type":"point","shape":"circle","filled":true,"size":46,"stroke":"black","strokeWidth":1,"opacity":1},"encoding":{"fill":{"field":"s","type":"nominal","scale":{"domain":["V","M"],"range":["white","black"]},"legend":{"orient":"none","legendX":505,"legendY":14,"direction":"horizontal","title":null,"symbolType":"M-1,0H-0.24M0.24,0H1M-0.24,0A0.24,0.24 0 1 0 0.24,0A0.24,0.24 0 1 0 -0.24,0Z","symbolSize":625,"symbolStrokeColor":"#000","symbolStrokeWidth":1,"labelFont":"Liberation Sans","labelFontSize":14.5,"labelColor":"#222","labelOffset":3,"columnPadding":18,"labelExpr":"datum.label=='V'?'Vehicle':'Morphine'"}}}}
]
}
]
}
